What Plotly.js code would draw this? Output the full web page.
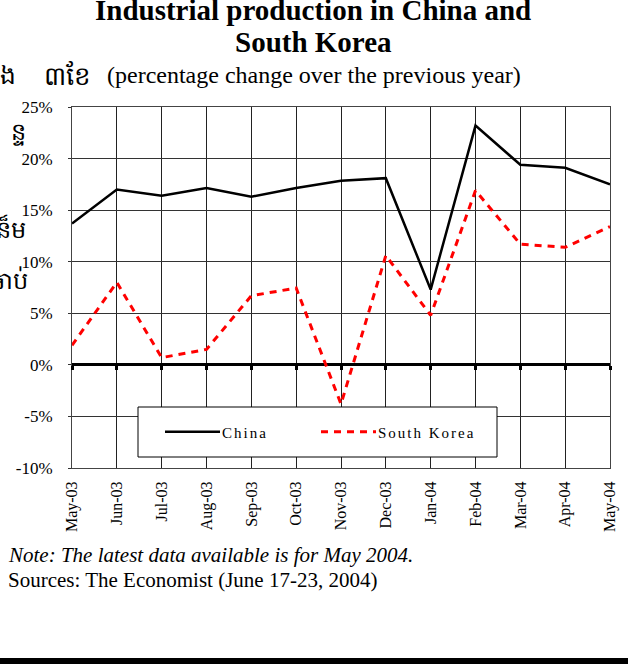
<!DOCTYPE html>
<html>
<head>
<meta charset="utf-8">
<script src="https://cdn.plot.ly/plotly-3.0.1.min.js"></script>
<style>
html,body{margin:0;padding:0;background:#fff;}
.legendtext{letter-spacing:2px;}
.legend .scrollbox{clip-path:none !important;}
</style>
</head>
<body>
<div id="chart" style="width:628px;height:664px;"></div>
<script>
const months = ["May-03","Jun-03","Jul-03","Aug-03","Sep-03","Oct-03","Nov-03","Dec-03","Jan-04","Feb-04","Mar-04","Apr-04","May-04"];
const china = [13.7, 17.0, 16.4, 17.15, 16.3, 17.15, 17.85, 18.1, 7.3, 23.2, 19.4, 19.1, 17.5];
const southKorea = [1.9, 8.0, 0.7, 1.5, 6.7, 7.45, -3.8, 10.6, 4.8, 16.9, 11.7, 11.4, 13.4];
const yTicks = [-10, -5, 0, 5, 10, 15, 20, 25];

const idx = months.map((m, i) => i);
const serif = "Liberation Serif, Times New Roman, serif";

// pixel helpers for layout (plot area: x 72..610, y 107..468)
const PL = 72, PR = 610, PT = 107, PB = 468;
const px = p => (p - PL) / (PR - PL);
const py = p => (PB - p) / (PB - PT);

const traces = [
  {x: idx, y: china, name: "China", type: "scatter", mode: "lines",
   line: {color: "#000000", width: 2.5}},
  {x: idx, y: southKorea, name: "South Korea", type: "scatter", mode: "lines",
   line: {color: "#ff0000", width: 3, dash: "7px,6px"}},
  {x: idx, y: idx.map(() => null), xaxis: "x2", showlegend: false, hoverinfo: "skip", type: "scatter", mode: "lines"}
];

const layout = {
  width: 628, height: 664,
  margin: {l: PL, r: 628 - PR, t: PT, b: 664 - PB},
  paper_bgcolor: "#ffffff", plot_bgcolor: "#ffffff",
  font: {family: serif, color: "#000"},
  showlegend: true,
  legend: {orientation: "h", x: px(160), y: py(432), xanchor: "left", yanchor: "middle",
           bgcolor: "rgba(0,0,0,0)", borderwidth: 0, itemwidth: 52,
           entrywidth: 89, entrywidthmode: "pixels",
           font: {family: serif, size: 15, color: "#000"}},
  xaxis: {range: [0, 12], tickvals: idx, ticktext: months, tickangle: -90,
          showgrid: true, gridcolor: "#222", gridwidth: 1,
          showline: true, linecolor: "#444", linewidth: 1, mirror: true,
          ticks: "", ticklabelstandoff: 6, zeroline: false,
          tickfont: {family: serif, size: 16, color: "#000"}, fixedrange: true},
  xaxis2: {range: [0, 12], tickvals: idx, overlaying: "x", anchor: "free", position: 10 / 35,
           side: "bottom", ticks: "outside", ticklen: 4, tickwidth: 3, tickcolor: "#000",
           showticklabels: false, showgrid: false, showline: false, zeroline: false},
  yaxis: {range: [-10, 25], tickvals: yTicks, ticktext: yTicks.map(v => v + "%"),
          showgrid: true, gridcolor: "#333", gridwidth: 1,
          showline: true, linecolor: "#444", linewidth: 1, mirror: true,
          ticks: "outside", ticklen: 3, tickcolor: "#333", ticklabelstandoff: 12,
          zeroline: true, zerolinecolor: "#000", zerolinewidth: 3,
          tickfont: {family: serif, size: 17, color: "#000"}, fixedrange: true},
  title: {text: ""},
  shapes: [
    {type: "rect", xref: "paper", yref: "paper", x0: px(138), x1: px(497), y0: py(457), y1: py(407),
     fillcolor: "#ffffff", line: {color: "#000", width: 1}, layer: "above"},
    {type: "rect", xref: "paper", yref: "paper", x0: px(0), x1: px(628), y0: py(664), y1: py(658),
     fillcolor: "#000", line: {width: 0}, layer: "above"}
  ],
  annotations: [
    {text: "<b>Industrial production in China and</b>", xref: "paper", yref: "paper",
     x: px(313), y: py(10), xanchor: "center", yanchor: "middle", showarrow: false,
     font: {family: serif, size: 29, color: "#000"}},
    {text: "<b>South Korea</b>", xref: "paper", yref: "paper",
     x: px(313), y: py(42), xanchor: "center", yanchor: "middle", showarrow: false,
     font: {family: serif, size: 29, color: "#000"}},
    {text: "(percentage change over the previous year)", xref: "paper", yref: "paper",
     x: px(314), y: py(75), xanchor: "center", yanchor: "middle", showarrow: false,
     font: {family: serif, size: 24, color: "#000"}},
    {text: "ដង", xref: "paper", yref: "paper",
     x: px(18), y: py(76), xanchor: "right", yanchor: "middle", showarrow: false,
     font: {family: serif, size: 25, color: "#000"}},
    {text: "៣ខែ", xref: "paper", yref: "paper",
     x: px(93), y: py(76), xanchor: "right", yanchor: "middle", showarrow: false,
     font: {family: serif, size: 26, color: "#000"}},
    {text: "ន្ទ", xref: "paper", yref: "paper",
     x: px(28), y: py(132), xanchor: "right", yanchor: "middle", showarrow: false,
     font: {family: serif, size: 24, color: "#000"}},
    {text: "ន៏ម", xref: "paper", yref: "paper",
     x: px(28), y: py(228), xanchor: "right", yanchor: "middle", showarrow: false,
     font: {family: serif, size: 24, color: "#000"}},
    {text: "ឆាប់", xref: "paper", yref: "paper",
     x: px(-12), y: py(280), xanchor: "left", yanchor: "middle", showarrow: false,
     font: {family: serif, size: 24, color: "#000"}},
    {text: "<i>Note: The latest data available is for May 2004.</i>", xref: "paper", yref: "paper",
     x: px(6), y: py(555), xanchor: "left", yanchor: "middle", showarrow: false,
     font: {family: serif, size: 21, color: "#000"}},
    {text: "Sources: The Economist (June 17-23, 2004)", xref: "paper", yref: "paper",
     x: px(6), y: py(580), xanchor: "left", yanchor: "middle", showarrow: false,
     font: {family: serif, size: 21, color: "#000"}}
  ]
};

Plotly.newPlot("chart", traces, layout, {displayModeBar: false, staticPlot: true}).then(gd => {
  // lengthen legend line samples to match the reference key
  gd.querySelectorAll(".legend .legendlines path").forEach(p => p.setAttribute("d", "M5,0h55"));
});
</script>
</body>
</html>
